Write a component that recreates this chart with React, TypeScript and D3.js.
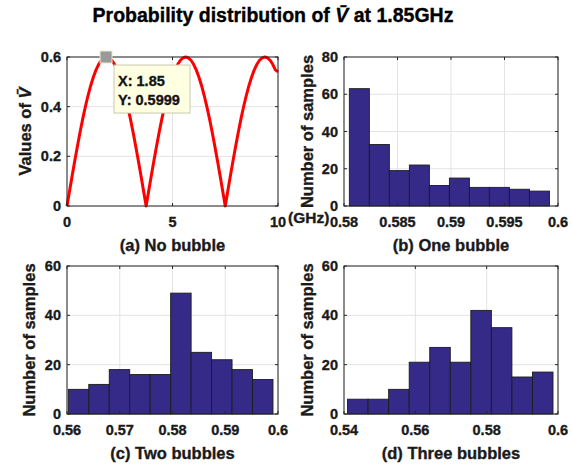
import React from 'react';
import * as d3 from 'd3';

// ---------- Data ----------
const titleText = 'Probability distribution of ';
const titleTail = ' at 1.85GHz';

// (a) No bubble: values sampled every 0.125 GHz from 0 to 10
const lineStep = 0.125;
const lineValues = [
  0, 0.0627, 0.1247, 0.1854, 0.244, 0.3, 0.3527, 0.4015, 0.4459, 0.4854, 0.5196, 0.5481, 0.5706, 0.5869, 0.5967, 0.6,
  0.5967, 0.5869, 0.5706, 0.5481, 0.5196, 0.4854, 0.4459, 0.4015, 0.3527, 0.3, 0.244, 0.1854, 0.1247, 0.0627, 0,
  0.0627, 0.1247, 0.1854, 0.244, 0.3, 0.3527, 0.4015, 0.4459, 0.4854, 0.5196, 0.5481, 0.5706, 0.5869, 0.5967, 0.6,
  0.5967, 0.5869, 0.5706, 0.5481, 0.5196, 0.4854, 0.4459, 0.4015, 0.3527, 0.3, 0.244, 0.1854, 0.1247, 0.0627, 0,
  0.0627, 0.1247, 0.1854, 0.244, 0.3, 0.3527, 0.4015, 0.4459, 0.4854, 0.5196, 0.5481, 0.5706, 0.5869, 0.5967, 0.6,
  0.5967, 0.5869, 0.5706, 0.5481, 0.54,
];
const tipX = 1.85;
const tipY = 0.5999;
const aXTicks = [0, 5, 10];
const aYTicks = [0, 0.2, 0.4, 0.6];

// (b) One bubble
const bEdges = [0.5805, 0.58237, 0.58424, 0.58611, 0.58798, 0.58985, 0.59172, 0.59359, 0.59546, 0.59733, 0.5992];
const bCounts = [63, 33, 19, 22, 11, 15, 10, 10, 9, 8];
const bXTicks = [0.58, 0.585, 0.59, 0.595, 0.6];
const bYTicks = [0, 20, 40, 60, 80];

// (c) Two bubbles
const cEdges = [0.56025, 0.56413, 0.56801, 0.57189, 0.57577, 0.57965, 0.58353, 0.58741, 0.59129, 0.59517, 0.59905];
const cCounts = [10, 12, 18, 16, 16, 49, 25, 22, 18, 14];
const cXTicks = [0.56, 0.57, 0.58, 0.59, 0.6];
const cYTicks = [0, 20, 40, 60];

// (d) Three bubbles
const dEdges = [0.541, 0.54676, 0.55252, 0.55828, 0.56404, 0.5698, 0.57556, 0.58132, 0.58708, 0.59284, 0.5986];
const dCounts = [6, 6, 10, 21, 27, 21, 42, 35, 15, 17];
const dXTicks = [0.54, 0.56, 0.58, 0.6];
const dYTicks = [0, 20, 40, 60];

// ---------- Styles ----------
const FONT = '"Liberation Sans", Arial, Helvetica, sans-serif';
const TXT = '#1a1a1a';
const AXIS = '#262626';
const GRID = '#e3e3e3';
const BAR = '#352a87';
const TICK_FS = 14.5;
const LABEL_FS = 16.5;
const TS = { stroke: TXT, strokeWidth: 0.35 } as const;

type Box = { x: number; y: number; w: number; h: number };

function Axes(props: {
  box: Box;
  xs: d3.ScaleLinear<number, number>;
  ys: d3.ScaleLinear<number, number>;
  xTicks: number[];
  yTicks: number[];
  xlabel: string;
  ylabel: React.ReactNode;
  ylabelX: number;
  children?: React.ReactNode;
  overlay?: React.ReactNode;
}) {
  const { box, xs, ys, xTicks, yTicks } = props;
  const fmt = (v: number) => String(+v.toFixed(4));
  const x0 = box.x, x1 = box.x + box.w, y0 = box.y, y1 = box.y + box.h;
  const tl = 3;
  return (
    <g>
      {xTicks.map((t, i) => (
        <line key={'gx' + i} x1={xs(t)} x2={xs(t)} y1={y0} y2={y1} stroke={GRID} strokeWidth={1} />
      ))}
      {yTicks.map((t, i) => (
        <line key={'gy' + i} x1={x0} x2={x1} y1={ys(t)} y2={ys(t)} stroke={GRID} strokeWidth={1} />
      ))}
      {props.children}
      <rect x={x0} y={y0} width={box.w} height={box.h} fill="none" stroke={AXIS} strokeWidth={1} />
      {xTicks.map((t, i) => (
        <g key={'tx' + i}>
          <line x1={xs(t)} x2={xs(t)} y1={y1} y2={y1 - tl} stroke={AXIS} />
          <line x1={xs(t)} x2={xs(t)} y1={y0} y2={y0 + tl} stroke={AXIS} />
          <text x={xs(t)} y={y1 + 21} textAnchor="middle" fontSize={TICK_FS} fontWeight="bold" fill={TXT} {...TS}>
            {fmt(t)}
          </text>
        </g>
      ))}
      {yTicks.map((t, i) => (
        <g key={'ty' + i}>
          <line x1={x0} x2={x0 + tl} y1={ys(t)} y2={ys(t)} stroke={AXIS} />
          <line x1={x1} x2={x1 - tl} y1={ys(t)} y2={ys(t)} stroke={AXIS} />
          <text x={x0 - 6} y={ys(t) + 5} textAnchor="end" fontSize={TICK_FS} fontWeight="bold" fill={TXT} {...TS}>
            {fmt(t)}
          </text>
        </g>
      ))}
      <text x={(x0 + x1) / 2} y={y1 + 45} textAnchor="middle" fontSize={LABEL_FS} fontWeight="bold" fill={TXT} {...TS}>
        {props.xlabel}
      </text>
      <text
        transform={`translate(${props.ylabelX},${(y0 + y1) / 2}) rotate(-90)`}
        textAnchor="middle"
        fontSize={LABEL_FS}
        fontWeight="bold"
        fill={TXT}
        {...TS}
      >
        {props.ylabel}
      </text>
      {props.overlay}
    </g>
  );
}

function Hist(props: {
  box: Box;
  xDomain: [number, number];
  yDomain: [number, number];
  edges: number[];
  counts: number[];
  xTicks: number[];
  yTicks: number[];
  xlabel: string;
  ylabelX: number;
}) {
  const { box } = props;
  const xs = d3.scaleLinear().domain(props.xDomain).range([box.x, box.x + box.w]);
  const ys = d3.scaleLinear().domain(props.yDomain).range([box.y + box.h, box.y]);
  return (
    <Axes
      box={box}
      xs={xs}
      ys={ys}
      xTicks={props.xTicks}
      yTicks={props.yTicks}
      xlabel={props.xlabel}
      ylabel="Number of samples"
      ylabelX={props.ylabelX}
    >
      {props.counts.map((c, i) => (
        <rect
          key={i}
          x={xs(props.edges[i])}
          y={ys(c)}
          width={xs(props.edges[i + 1]) - xs(props.edges[i])}
          height={ys(0) - ys(c)}
          fill={BAR}
          stroke="#1c1c1c"
          strokeWidth={0.9}
        />
      ))}
    </Axes>
  );
}

const VBar = () => <tspan fontStyle="italic">{'V\u0304'}</tspan>;

export default function App() {
  const boxA: Box = { x: 67, y: 57, w: 211, h: 149 };
  const boxB: Box = { x: 344, y: 57, w: 214, h: 149 };
  const boxC: Box = { x: 67, y: 266, w: 211, h: 148 };
  const boxD: Box = { x: 344, y: 266, w: 214, h: 148 };

  const xa = d3.scaleLinear().domain([0, 10]).range([boxA.x, boxA.x + boxA.w]);
  const ya = d3.scaleLinear().domain([0, 0.6]).range([boxA.y + boxA.h, boxA.y]);
  const lineXs = d3.range(lineValues.length).map((i) => i * lineStep);
  const pts: [number, number][] = lineValues.map((v, i) => [lineXs[i], v]);
  const lineGen = d3
    .line<[number, number]>()
    .x((d) => xa(d[0]))
    .y((d) => ya(d[1]));

  const mx = xa(tipX);
  const my = ya(tipY);

  return (
    <svg
      width={572}
      height={468}
      style={{ position: 'absolute', left: 0, top: 0, background: '#fff' }}
      fontFamily={FONT}
    >
      <rect x={0} y={0} width={572} height={468} fill="#fff" />
      <text x={273} y={22} textAnchor="middle" fontSize={19.5} fontWeight="bold" fill="#000" stroke="#000" strokeWidth={0.35}>
        {titleText}
        <VBar />
        {titleTail}
      </text>

      <Axes
        box={boxA}
        xs={xa}
        ys={ya}
        xTicks={aXTicks}
        yTicks={aYTicks}
        xlabel="(a) No bubble"
        ylabel={
          <>
            {'Values of '}
            <VBar />
          </>
        }
        ylabelX={31}
        overlay={
          <g>
            <rect x={mx - 6} y={my - 6} width={12} height={12} fill="#9a9a9a" stroke="#ecebc4" strokeWidth={1} />
            <rect x={mx + 8} y={my + 8} width={76} height={48} fill="#ffffe1" stroke="#c8c8b0" strokeWidth={1} />
            <text x={mx + 12} y={my + 29} fontSize={14.5} fontWeight="bold" fill="#111" {...TS}>
              {'X: ' + tipX}
            </text>
            <text x={mx + 12} y={my + 48} fontSize={14.5} fontWeight="bold" fill="#111" {...TS}>
              {'Y: ' + tipY}
            </text>
          </g>
        }
      >
        <path d={lineGen(pts) || ''} fill="none" stroke="#ff0000" strokeWidth={3} strokeLinejoin="round" />
      </Axes>

      <Hist
        box={boxB}
        xDomain={[0.58, 0.6]}
        yDomain={[0, 80]}
        edges={bEdges}
        counts={bCounts}
        xTicks={bXTicks}
        yTicks={bYTicks}
        xlabel="(b) One bubble"
        ylabelX={313}
      />
      <text x={288} y={223} fontSize={15.5} fontWeight="bold" fill={TXT} {...TS}>
        (GHz)
      </text>

      <Hist
        box={boxC}
        xDomain={[0.56, 0.6]}
        yDomain={[0, 60]}
        edges={cEdges}
        counts={cCounts}
        xTicks={cXTicks}
        yTicks={cYTicks}
        xlabel="(c) Two bubbles"
        ylabelX={35}
      />
      <Hist
        box={boxD}
        xDomain={[0.54, 0.6]}
        yDomain={[0, 60]}
        edges={dEdges}
        counts={dCounts}
        xTicks={dXTicks}
        yTicks={dYTicks}
        xlabel="(d) Three bubbles"
        ylabelX={313}
      />
    </svg>
  );
}
